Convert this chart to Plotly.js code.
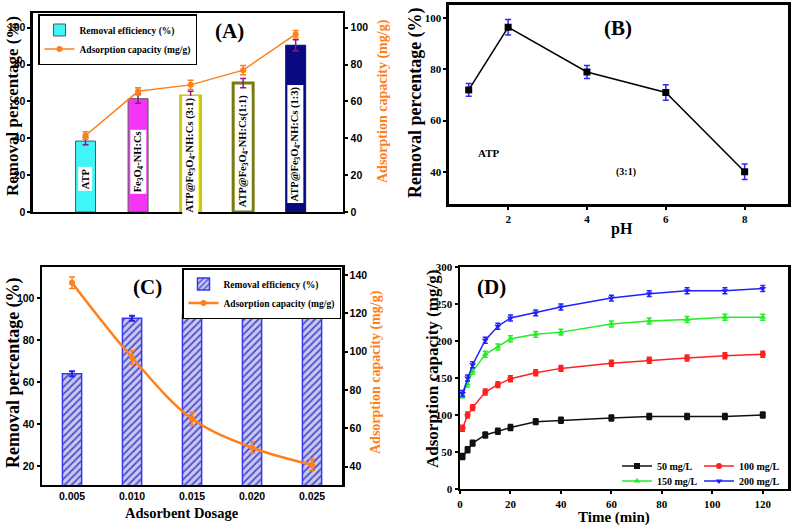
<!DOCTYPE html>
<html>
<head>
<meta charset="utf-8">
<script src="https://cdn.plot.ly/plotly-3.0.1.min.js"></script>
<style>html,body{margin:0;padding:0;background:#fff;}#chart{width:793px;height:525px;}</style>
</head>
<body>
<div id="chart"></div>
<script>
// ---------- Panel A ----------
const aCategories = ['ATP', 'Fe3O4-NH:Cs', 'ATP@Fe3O4-NH:Cs (3:1)', 'ATP@Fe3O4-NH:Cs (1:1)', 'ATP@Fe3O4-NH:Cs (1:3)'];
const aBarLabels = ['ATP', 'Fe<sub>3</sub>O<sub>4</sub>-NH:Cs', 'ATP@Fe<sub>3</sub>O<sub>4</sub>-NH:Cs (3:1)', 'ATP@Fe<sub>3</sub>O<sub>4</sub>-NH:Cs(1:1)', 'ATP@Fe<sub>3</sub>O<sub>4</sub>-NH:Cs (1:3)'];
const aRemoval = [38.5, 61.5, 63, 70, 90.5];
const aRemovalErr = [2, 2.5, 2.5, 2.5, 3];
const aCapacity = [41.5, 65.5, 69, 77, 96.5];
const aCapacityErr = [2, 2, 2.5, 2.5, 2];
const aLabelCenters = [18, 27, 31, 33, 37];
// ---------- Panel B ----------
const bPH = [1, 2, 4, 6, 8];
const bRemoval = [72, 96.5, 79, 71, 40];
const bErr = [2.5, 3, 2.5, 3, 3];
// ---------- Panel C ----------
const cDosage = ['0.005', '0.010', '0.015', '0.020', '0.025'];
const cRemoval = [64, 90.5, 92, 94, 97];
const cRemovalErr = [1.2, 1.2, 1.3, 1.3, 1.5];
const cCapacity = [136, 97, 65, 50, 41];
const cCapacityErr = [3, 3.5, 3.5, 3, 3];
// ---------- Panel D ----------
const dTime = [1, 3, 5, 10, 15, 20, 30, 40, 60, 75, 90, 105, 120];
const d50 = [44, 53, 62, 73, 78, 83, 91, 93, 96, 98, 98, 98, 100];
const d100 = [82, 100, 110, 131, 141, 149, 157, 163, 170, 174, 177, 180, 182];
const d150 = [127, 142, 159, 182, 192, 203, 209, 212, 223, 227, 229, 232, 232];
const d200 = [129, 150, 168, 201, 220, 231, 238, 246, 258, 264, 268, 268, 271];
const dErr = 4;
const dNames = ['50 mg/L', '100 mg/L', '150 mg/L', '200 mg/L'];

const ORANGE = '#ff7f1a';
const SERIF = 'Liberation Serif';
const SANS = 'Liberation Sans';
const bold = (fam, size, color) => ({family: fam, size: size, weight: 'bold', color: color || '#000'});

const traces = [];
// A bars
traces.push({
  type: 'bar', x: aCategories, y: aRemoval, xaxis: 'x', yaxis: 'y', width: 0.38,
  name: 'Removal efficiency (%)', legend: 'legend',
  marker: {color: ['#3ff5f5', '#f535f5', '#f5f53a', '#ffffff', '#0a0a80'],
           line: {color: ['#555555', '#555555', '#c8c820', '#7a7a10', '#0a0a80'], width: [1, 1, 3, 3, 1]}},
  error_y: {type: 'data', array: aRemovalErr, color: '#8a1a8a', thickness: 1.5, width: 3}
});
traces.push({
  type: 'scatter', mode: 'lines+markers', x: aCategories, y: aCapacity, xaxis: 'x', yaxis: 'y2',
  name: 'Adsorption capacity (mg/g)', legend: 'legend',
  line: {color: ORANGE, width: 1.5}, marker: {color: ORANGE, size: 6, symbol: 'circle'},
  error_y: {type: 'data', array: aCapacityErr, color: ORANGE, thickness: 1.5, width: 3}
});
// B
traces.push({
  type: 'scatter', mode: 'lines+markers', x: bPH, y: bRemoval, xaxis: 'x2', yaxis: 'y3', showlegend: false,
  line: {color: '#000', width: 1.5}, marker: {color: '#000', size: 7, symbol: 'square'},
  error_y: {type: 'data', array: bErr, color: '#2a2aff', thickness: 1.5, width: 3}
});
// C
traces.push({
  type: 'bar', x: cDosage, y: cRemoval, xaxis: 'x3', yaxis: 'y4', width: 0.32,
  name: 'Removal efficiency (%)', legend: 'legend2',
  marker: {color: '#c8c8f2', line: {color: '#3838f0', width: 1.5},
           pattern: {shape: '/', fgcolor: '#5050c8', bgcolor: '#c8c8f2', size: 5, solidity: 0.35}},
  error_y: {type: 'data', array: cRemovalErr, color: '#2020ee', thickness: 2, width: 3}
});
traces.push({
  type: 'scatter', mode: 'lines+markers', x: cDosage, y: cCapacity, xaxis: 'x3', yaxis: 'y5',
  name: 'Adsorption capacity (mg/g)', legend: 'legend2',
  line: {color: ORANGE, width: 2.5, shape: 'spline'}, marker: {color: ORANGE, size: 6},
  error_y: {type: 'data', array: cCapacityErr, color: ORANGE, thickness: 1.5, width: 3}
});
// D
const dSeries = [d50, d100, d150, d200];
const dColors = ['#111111', '#ff2020', '#22ee22', '#2020ff'];
const dSymbols = ['square', 'circle', 'triangle-up', 'triangle-down'];
const dLegends = ['legend3', 'legend4', 'legend5', 'legend6'];
for (let i = 0; i < 4; i++) {
  traces.push({
    type: 'scatter', mode: 'lines+markers', x: dTime, y: dSeries[i], xaxis: 'x4', yaxis: 'y6',
    name: dNames[i], legend: dLegends[i],
    line: {color: dColors[i], width: 1.5}, marker: {color: dColors[i], size: 6, symbol: dSymbols[i]},
    error_y: {type: 'constant', value: dErr, color: dColors[i], thickness: 1.5, width: 2.5}
  });
}

const frame = {showline: true, linecolor: '#000', linewidth: 2.5, ticks: 'outside', ticklen: 3, tickwidth: 2,
               tickcolor: '#000', showgrid: false, zeroline: false, automargin: false};

const px = v => v / 793;
const py = v => 1 - v / 525;
const annotations = aCategories.map((c, i) => ({
  x: c, y: aLabelCenters[i], xref: 'x', yref: 'y2', text: aBarLabels[i], showarrow: false, textangle: -90,
  xanchor: 'center', yanchor: 'middle', font: bold(SERIF, 10.5), bgcolor: '#ffffff', borderpad: 1
}));
const panelTitle = (t, x, y) => ({x: px(x), y: py(y), xref: 'paper', yref: 'paper', text: '<b>' + t + '</b>', showarrow: false,
  xanchor: 'center', yanchor: 'middle', font: {family: SERIF, size: 21, color: '#000'}});
const axisTitle = (t, x, y, size, angle, color) => ({x: px(x), y: py(y), xref: 'paper', yref: 'paper', text: '<b>' + t + '</b>',
  showarrow: false, textangle: angle, xanchor: 'center', yanchor: 'middle', font: {family: SERIF, size: size, color: color || '#000'}});
annotations.push(
  panelTitle('(A)', 229, 31), panelTitle('(B)', 618, 28), panelTitle('(C)', 147, 287), panelTitle('(D)', 492, 287),
  axisTitle('Removal percentage (%)', 12, 106, 17, -90),
  axisTitle('Adsorption capacity (mg/g)', 383, 101, 14, -90, ORANGE),
  axisTitle('Removal percentage (%)', 415, 103, 18, -90),
  axisTitle('pH', 622, 229, 16, 0),
  axisTitle('Removal percentage (%)', 13, 373, 18, -90),
  axisTitle('Adsorption capacity (mg/g)', 376, 372, 14, -90, ORANGE),
  axisTitle('Adsorbent Dosage', 182, 513, 14.5, 0),
  axisTitle('Adsorption capacity (mg/g)', 432, 369, 17, -90),
  axisTitle('Time (min)', 614, 517, 15, 0),
  {x: 1.5, y: 47.5, xref: 'x2', yref: 'y3', text: 'ATP', showarrow: false, xanchor: 'center', yanchor: 'middle', font: bold(SERIF, 11)},
  {x: 5.0, y: 40, xref: 'x2', yref: 'y3', text: '(3:1)', showarrow: false, xanchor: 'center', yanchor: 'middle', font: bold(SERIF, 10)}
);

const legendBase = {bgcolor: '#ffffff', bordercolor: '#000', borderwidth: 1.5, xanchor: 'left', yanchor: 'top',
                    font: bold(SERIF, 9.5), itemwidth: 30, tracegroupgap: 0, traceorder: 'normal'};
const dLeg = (x, y) => Object.assign({}, legendBase, {x: px(x), y: py(y), yanchor: 'middle', borderwidth: 0,
                    bgcolor: 'rgba(0,0,0,0)', font: bold(SERIF, 10)});

const layout = {
  width: 793, height: 525, margin: {l: 0, r: 0, t: 0, b: 0}, paper_bgcolor: '#fff', plot_bgcolor: '#fff',
  showlegend: true, barmode: 'overlay',
  font: {family: SERIF, color: '#000'},
  // A
  xaxis: Object.assign({}, frame, {domain: [0.0416, 0.4325], anchor: 'y', type: 'category', range: [-1.0, 4.9],
    showticklabels: false, ticks: '', mirror: true}),
  yaxis: Object.assign({}, frame, {domain: [0.5962, 0.9752], anchor: 'x', range: [0, 108], tickvals: [0, 20, 40, 60, 80, 100],
    tickfont: bold(SANS, 10.5)}),
  yaxis2: Object.assign({}, frame, {overlaying: 'y', anchor: 'x', side: 'right', range: [0, 108], tickvals: [0, 20, 40, 60, 80, 100],
    tickfont: bold(SANS, 10.5)}),
  // B
  xaxis2: Object.assign({}, frame, {domain: [0.5662, 0.9937], anchor: 'y3', range: [0.5, 9.1], tickvals: [2, 4, 6, 8], mirror: true,
    tickfont: bold(SERIF, 11)}),
  yaxis3: Object.assign({}, frame, {domain: [0.6114, 0.9905], anchor: 'x2', range: [27.4, 105.2], tickvals: [40, 60, 80, 100], mirror: true,
    tickfont: bold(SERIF, 11)}),
  // C
  xaxis3: Object.assign({}, frame, {domain: [0.053, 0.4313], anchor: 'y4', type: 'category', range: [-0.5, 4.5], mirror: true,
    ticks: '', tickfont: bold(SANS, 10.5)}),
  yaxis4: Object.assign({}, frame, {domain: [0.0762, 0.4914], anchor: 'x3', range: [10.9, 114.9], tickvals: [20, 40, 60, 80, 100],
    tickfont: bold(SANS, 10.5)}),
  yaxis5: Object.assign({}, frame, {overlaying: 'y4', anchor: 'x3', side: 'right', range: [30.5, 144.2], tickvals: [40, 60, 80, 100, 120, 140],
    tickfont: bold(SANS, 10.5)}),
  // D
  xaxis4: Object.assign({}, frame, {domain: [0.5801, 0.9937], anchor: 'y6', range: [0, 130], tickvals: [0, 20, 40, 60, 80, 100, 120], mirror: true,
    tickfont: bold(SERIF, 11)}),
  yaxis6: Object.assign({}, frame, {domain: [0.0686, 0.4914], anchor: 'x4', range: [0, 300], tickvals: [0, 50, 100, 150, 200, 250, 300], mirror: true,
    tickfont: bold(SERIF, 11)}),
  legend: Object.assign({}, legendBase, {x: px(38), y: py(14)}),
  legend2: Object.assign({}, legendBase, {x: px(341), xanchor: 'right', y: py(268)}),
  legend3: dLeg(617, 466),
  legend4: dLeg(699, 466),
  legend5: dLeg(617, 481),
  legend6: dLeg(699, 481),
  annotations: annotations
};

Plotly.newPlot('chart', traces, layout, {staticPlot: true, displayModeBar: false});
</script>
</body>
</html>
